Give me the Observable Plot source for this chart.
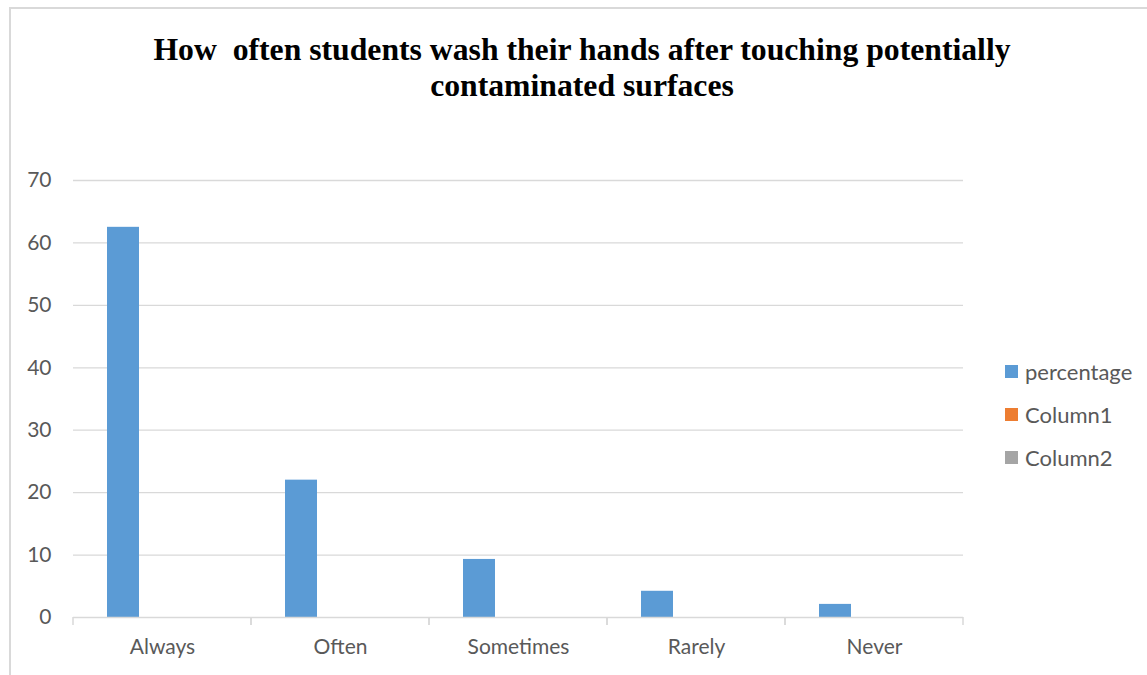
<!DOCTYPE html>
<html>
<head>
<meta charset="utf-8">
<script src="https://cdn.jsdelivr.net/npm/d3@7"></script>
<script src="https://cdn.jsdelivr.net/npm/@observablehq/plot@0.6"></script>
<style>
  html, body { margin: 0; padding: 0; background: #fff; }
  #wrap { position: relative; width: 1147px; height: 675px; overflow: hidden; }
  #border { position: absolute; left: 9px; top: 7px; width: 1160px; height: 700px; border: 2px solid #d9d9d9; box-sizing: border-box; }
  #title { position: absolute; left: 0; top: 32px; width: 1164px; text-align: center;
    font-family: "Liberation Serif", "Times New Roman", serif; font-weight: bold; font-size: 31.7px; line-height: 36px; color: #000; }
  #chart { position: absolute; left: 0; top: 120px; }
  #legend { position: absolute; left: 1005px; top: 350px; font-family: Lato, "Open Sans", sans-serif; font-size: 22px; color: #595959; }
  #legend .item { display: flex; align-items: center; height: 43px; }
  #legend .sw { width: 13px; height: 13px; margin-right: 7px; }
</style>
</head>
<body>
<div id="wrap">
  <div id="border"></div>
  <div id="title">How&nbsp; often students wash their hands after touching potentially<br>contaminated surfaces</div>
  <div id="chart"></div>
  <div id="legend"></div>
</div>
<script>
const categories = ["Always", "Often", "Sometimes", "Rarely", "Never"];
const seriesNames = ["percentage", "Column1", "Column2"];
const seriesColors = ["#5B9BD5", "#ED7D31", "#A5A5A5"];
const percentage = [62.5, 22.0, 9.3, 4.2, 2.1];
const column1 = [null, null, null, null, null];
const column2 = [null, null, null, null, null];
const yTicks = [0, 10, 20, 30, 40, 50, 60, 70];

const seriesValues = [percentage, column1, column2];
const rows = [];
categories.forEach((c, i) => {
  seriesNames.forEach((s, j) => {
    const v = seriesValues[j][i];
    if (v != null) rows.push({category: c, series: s, value: v});
  });
});

function separators(index, scales, values, dims) {
  const x = scales.x, y = scales.y;
  const r = (x && typeof x.range === "function") ? x.range() : [dims.marginLeft, dims.width - dims.marginRight];
  const y0 = y(0);
  const g = d3.create("svg:g");
  for (const xx of r) {
    g.append("line").attr("x1", xx).attr("x2", xx).attr("y1", y0).attr("y2", y0 + 8)
      .attr("stroke", "#d9d9d9").attr("stroke-width", 1.5);
  }
  return g.node();
}

const plot = Plot.plot({
  width: 1147,
  height: 555,
  marginLeft: 73,
  marginRight: 184,
  marginTop: 60,
  marginBottom: 58,
  style: { fontFamily: "Lato, 'Open Sans', sans-serif", fontSize: "21px", color: "#595959", background: "transparent" },
  fx: { domain: categories, padding: 0, label: null, axis: "bottom", tickSize: 0, tickPadding: 22 },
  x: { domain: seriesNames, paddingInner: 0.18, paddingOuter: 0.87, axis: null },
  y: { domain: [0, 70], ticks: yTicks, label: null, tickSize: 0, tickPadding: 22 },
  color: { domain: seriesNames, range: seriesColors },
  marks: [
    Plot.ruleY(yTicks.filter(d => d > 0), { stroke: "#d9d9d9", strokeWidth: 1.3 }),
    Plot.barY(rows, { fx: "category", x: "series", y: "value", fill: "series" }),
    Plot.ruleY([0], { stroke: "#d9d9d9", strokeWidth: 1.6 }),
    separators
  ]
});
document.getElementById("chart").appendChild(plot);

const legend = d3.select("#legend");
seriesNames.forEach((s, i) => {
  const item = legend.append("div").attr("class", "item");
  item.append("div").attr("class", "sw").style("background", seriesColors[i]);
  item.append("span").text(s);
});
</script>
</body>
</html>
